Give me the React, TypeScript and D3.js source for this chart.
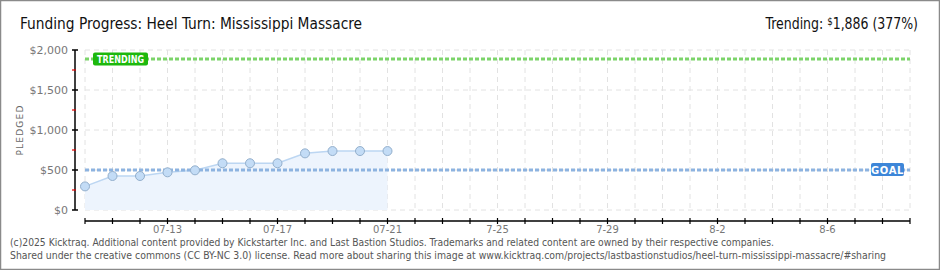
import React from 'react';
import * as d3 from 'd3';

const dates = ['2025-07-10','2025-07-11','2025-07-12','2025-07-13','2025-07-14','2025-07-15','2025-07-16','2025-07-17','2025-07-18','2025-07-19','2025-07-20','2025-07-21'];
const pledged = [295, 425, 425, 471, 496, 584, 584, 584, 708, 737, 737, 737];
const goal = 500;
const trending = 1886;
const trendingPct = 377;
const yTicks = [0, 500, 1000, 1500, 2000];
const yMinorTicks = [250, 750, 1250, 1750];
const xLabelDates = ['2025-07-13','2025-07-17','2025-07-21','2025-07-25','2025-07-29','2025-08-02','2025-08-06'];
const xLabels = ['07-13','07-17','07-21','7-25','7-29','8-2','8-6'];
const domainStart = '2025-07-10';
const domainEnd = '2025-08-09';
const title = 'Funding Progress: Heel Turn: Mississippi Massacre';
const footer1 = '(c)2025 Kicktraq. Additional content provided by Kickstarter Inc. and Last Bastion Studios. Trademarks and related content are owned by their respective companies.';
const footer2 = 'Shared under the creative commons (CC BY-NC 3.0) license. Read more about sharing this image at www.kicktraq.com/projects/lastbastionstudios/heel-turn-mississippi-massacre/#sharing';

const W = 940, H = 270;
const pd = (s: string) => new Date(s + 'T00:00:00Z');

export default function App() {
  const x = d3.scaleUtc().domain([pd(domainStart), pd(domainEnd)]).range([85, 910]);
  const y = d3.scaleLinear().domain([0, 2000]).range([210, 50]);
  const days = d3.utcDay.range(pd(domainStart), d3.utcDay.offset(pd(domainEnd), 1));
  const pts = dates.map((d, i) => [x(pd(d)), y(pledged[i])] as [number, number]);
  const line = d3.line<[number, number]>().x(d => d[0]).y(d => d[1]);
  const area = d3.area<[number, number]>().x(d => d[0]).y0(y(0)).y1(d => d[1]);
  const fmt = d3.format('$,');
  const axisFont = '"DejaVu Sans", sans-serif';
  const titleFont = '"Liberation Sans Narrow", "DejaVu Sans Condensed", "Roboto Condensed", sans-serif';
  const yG = y(goal), yT = y(trending);
  return (
    <svg width={W} height={H} style={{ position: 'absolute', left: 0, top: 0, background: '#fff' }}>
      <rect x={0.5} y={0.5} width={W - 1} height={H - 1} fill="#fff" stroke="#8a8a8a" strokeWidth={1.5} />
      <text x={20} y={29} fontFamily={titleFont} fontSize={16} fill="#111" textLength={342} lengthAdjust="spacingAndGlyphs">{title}</text>
      <g transform="translate(918,29) scale(0.87,1)">
        <text x={0} y={0} textAnchor="end" fontFamily={titleFont} fontSize={16} fill="#111">
          {'Trending: '}
          <tspan fontSize={11} dy={-4}>$</tspan>
          <tspan dy={4}>{d3.format(',')(trending) + ' (' + trendingPct + '%)'}</tspan>
        </text>
      </g>
      {/* horizontal grid */}
      {yTicks.map(t => (
        <line key={'hg' + t} x1={85} x2={910} y1={y(t)} y2={y(t)} stroke="#e2e2e2" strokeDasharray="5 4" />
      ))}
      {/* vertical grid */}
      {days.map((d, i) => (
        <line key={'vg' + i} x1={x(d)} x2={x(d)} y1={y(2000)} y2={y(0)} stroke="#e2e2e2" strokeDasharray="5 4" />
      ))}
      <path d={area(pts) || ''} fill="#edf4fd" />
      <path d={line(pts) || ''} fill="none" stroke="#bcd6f2" strokeWidth={1.5} />
      {/* goal line */}
      <line x1={85} x2={910} y1={yG} y2={yG} stroke="#8db3e0" strokeWidth={3} strokeDasharray="4 2" />
      <rect x={871} y={yG - 7} width={33} height={13} rx={2} fill="#3d86d8" />
      <text x={887.5} y={yG + 4} textAnchor="middle" fontFamily={axisFont} fontWeight="bold" fontSize={10} fill="#fff" letterSpacing={0.6}>GOAL</text>
      {/* trending line */}
      <line x1={85} x2={910} y1={yT} y2={yT} stroke="#7cd46a" strokeWidth={3} strokeDasharray="4 2" />
      <rect x={93} y={yT - 6.5} width={55} height={13} rx={2} fill="#1db80d" />
      <text x={120.5} y={yT + 4} textAnchor="middle" fontFamily={axisFont} fontWeight="bold" fontSize={10} fill="#fff" textLength={47} lengthAdjust="spacingAndGlyphs">TRENDING</text>
      {/* points */}
      {pts.map((p, i) => (
        <circle key={'pt' + i} cx={p[0]} cy={p[1]} r={4.5} fill="#c3dcf6" stroke="#93afcc" strokeWidth={1} />
      ))}
      {/* y axis */}
      <line x1={75} x2={75} y1={y(2000)} y2={y(0)} stroke="#000" strokeWidth={1.5} />
      {yTicks.map(t => (
        <g key={'yt' + t}>
          <line x1={72} x2={78} y1={y(t)} y2={y(t)} stroke="#000" strokeWidth={1.5} />
          <text x={68} y={y(t) + 4} textAnchor="end" fontFamily={axisFont} fontSize={11} fill="#777">{fmt(t)}</text>
        </g>
      ))}
      {yMinorTicks.map(t => (
        <line key={'ym' + t} x1={72} x2={76} y1={y(t)} y2={y(t)} stroke="#e00000" strokeWidth={1.2} />
      ))}
      <text transform="translate(23,130) rotate(-90)" textAnchor="middle" fontFamily={axisFont} fontSize={9} fill="#666" letterSpacing={1.2}>PLEDGED</text>
      {/* x axis */}
      <line x1={85} x2={910} y1={221} y2={221} stroke="#000" strokeWidth={1.5} />
      {days.map((d, i) => (
        <line key={'xt' + i} x1={x(d)} x2={x(d)} y1={218} y2={224} stroke="#000" strokeWidth={1.2} />
      ))}
      {xLabelDates.map((d, i) => (
        <text key={'xl' + i} x={x(pd(d))} y={233} textAnchor="middle" fontFamily={axisFont} fontSize={10} fill="#777">{xLabels[i]}</text>
      ))}
      <text x={10} y={246} fontFamily={'"DejaVu Sans Condensed", "Liberation Sans Narrow", sans-serif'} fontSize={10} fill="#555" textLength={764} lengthAdjust="spacingAndGlyphs">{footer1}</text>
      <text x={10} y={259} fontFamily={'"DejaVu Sans Condensed", "Liberation Sans Narrow", sans-serif'} fontSize={10} fill="#555" textLength={876} lengthAdjust="spacingAndGlyphs">{footer2}</text>
    </svg>
  );
}
